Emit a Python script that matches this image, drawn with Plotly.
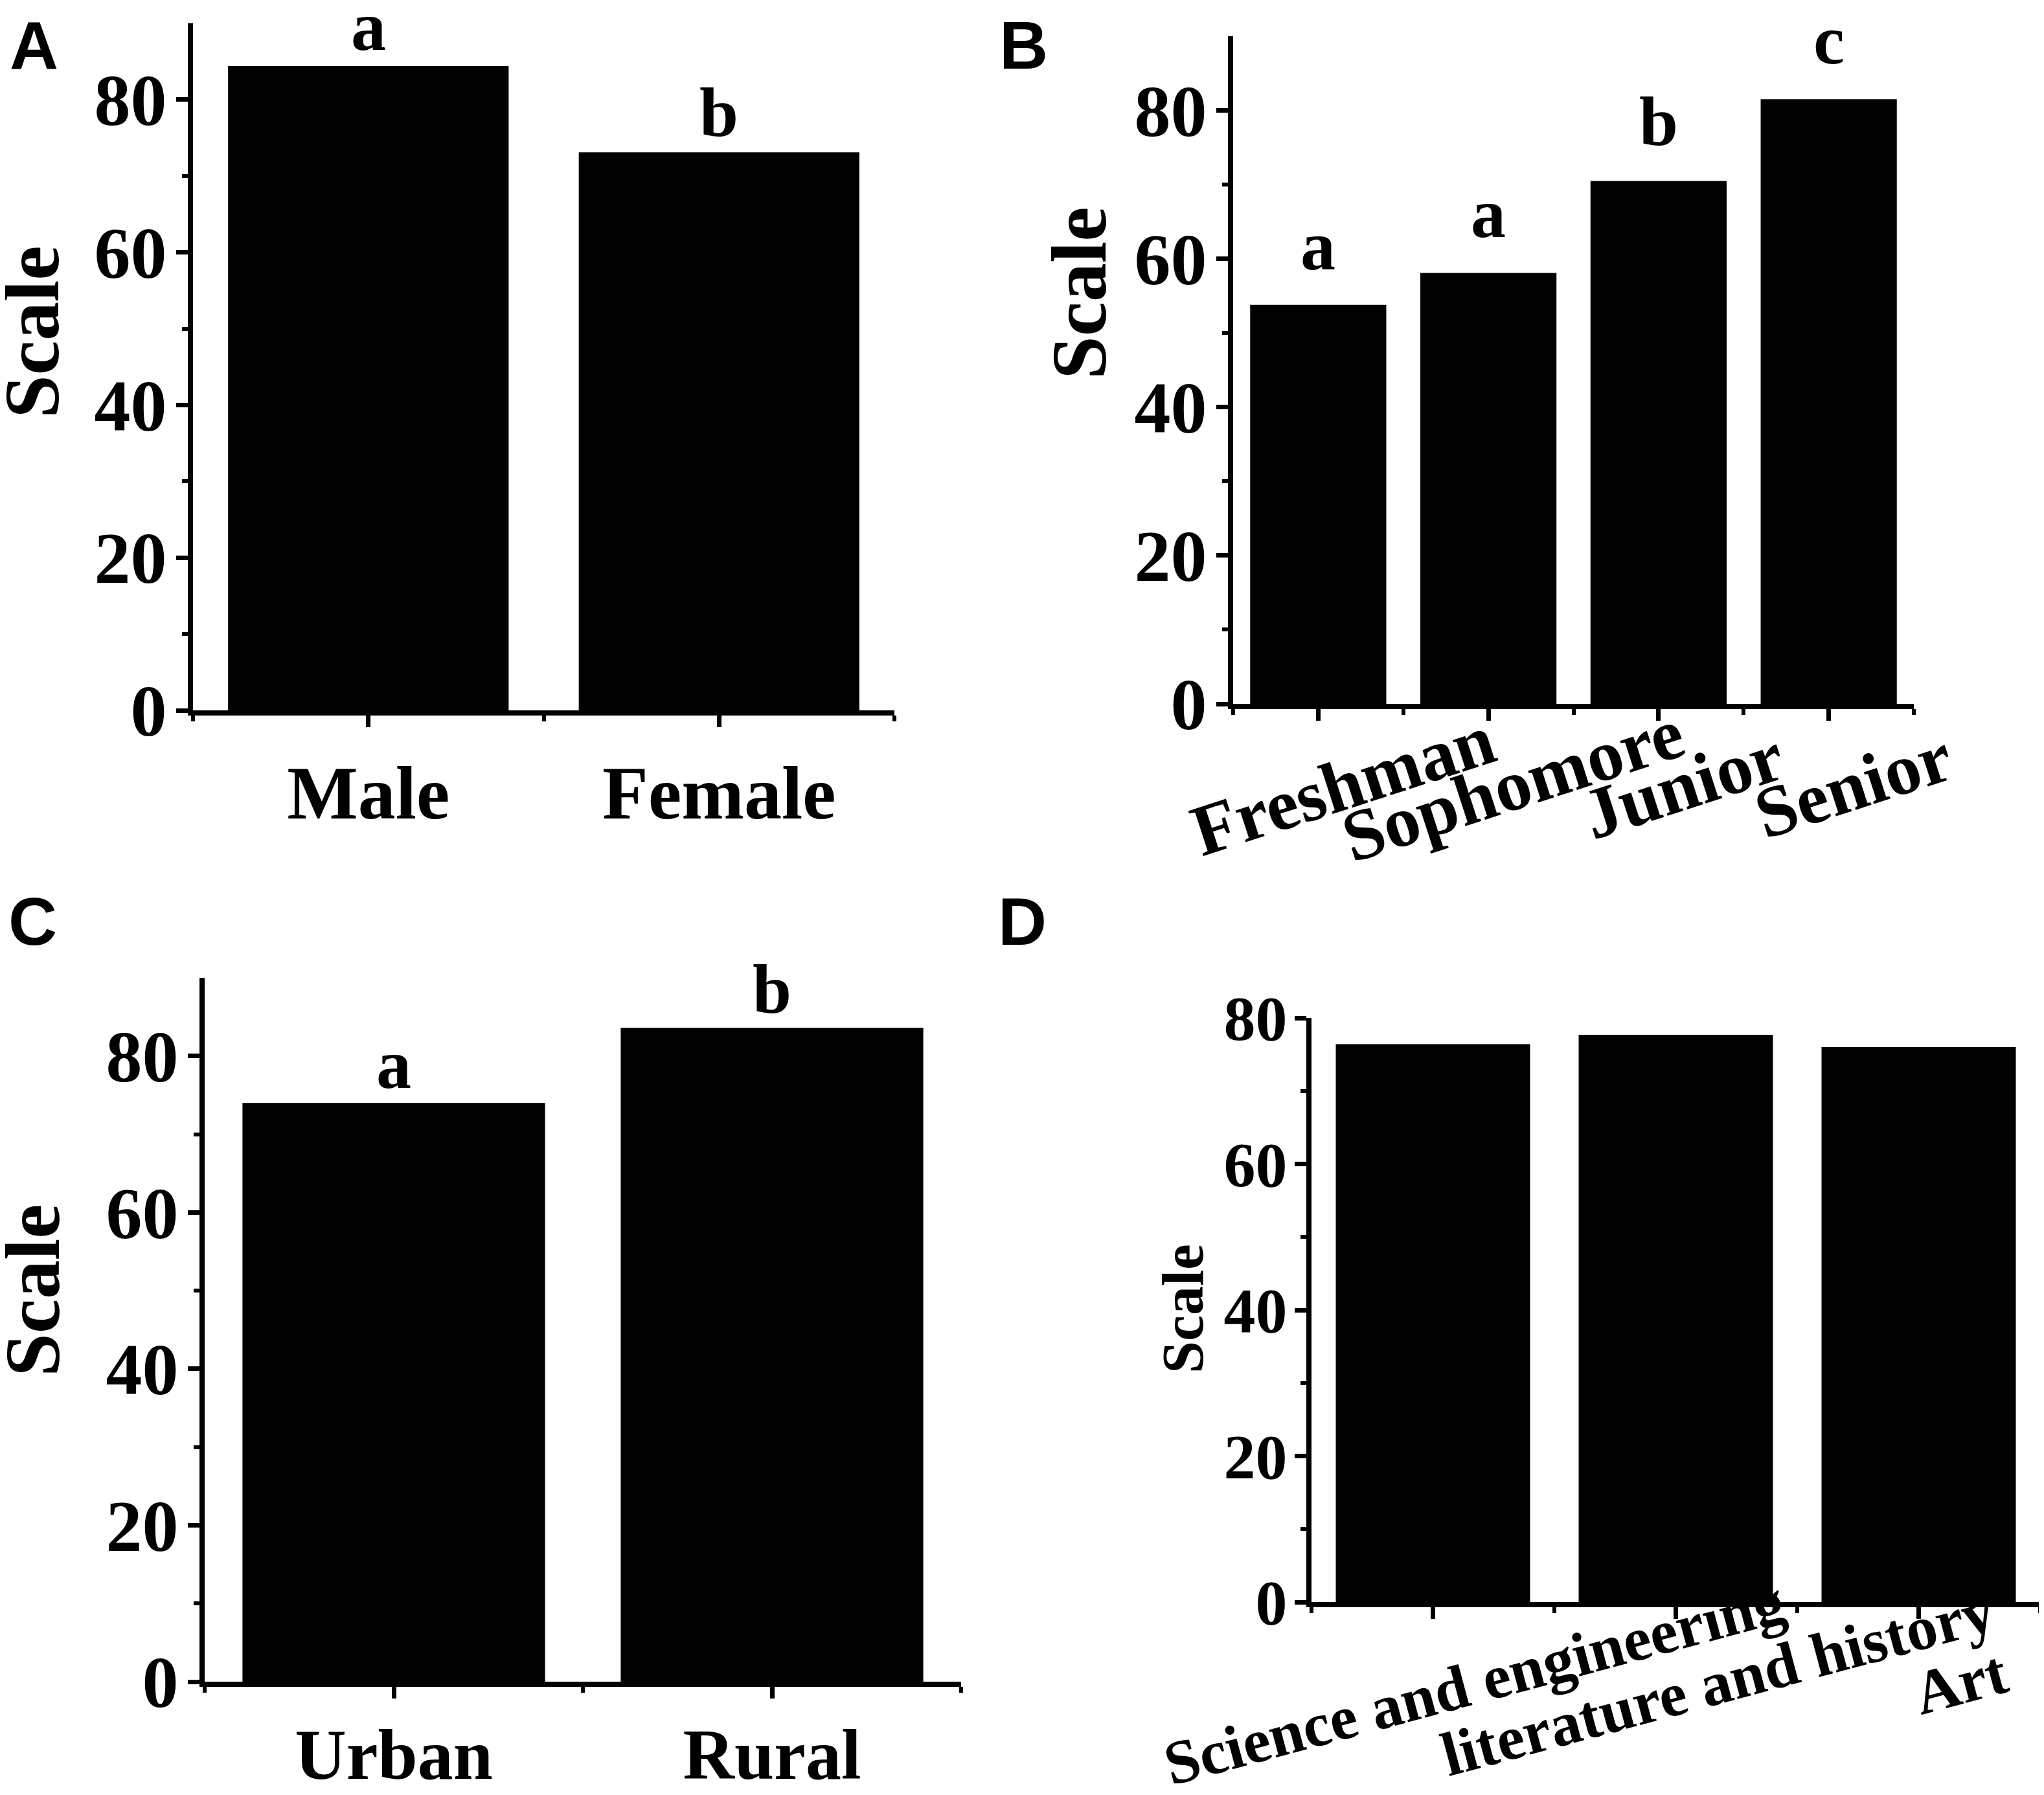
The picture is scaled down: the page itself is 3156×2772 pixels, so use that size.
import plotly.graph_objects as go

# Valores
sexo = ['Male', 'Female']
sexo_val = [84.4, 73.1]
sexo_letras = ['a', 'b']

curso = ['Freshman', 'Sophomore', 'Junior', 'Senior']
curso_val = [53.8, 58.1, 70.5, 81.5]
curso_letras = ['a', 'a', 'b', 'c']

origen = ['Urban', 'Rural']
origen_val = [74.0, 83.6]
origen_letras = ['a', 'b']

carrera = ['Science and engineering', 'literature and history', 'Art']
carrera_val = [76.4, 77.7, 76.0]

y_mayores = [0, 20, 40, 60, 80]
y_menores = [10, 30, 50, 70]

SERIF = 'Liberation Serif'
SANS = 'Liberation Sans'

# la página deja 8 px de margen, así que la figura es un poco menor que la ventana
W, H = 3148, 2764


def px(x):
    return (x - 8) / W


def py(y):
    return 1 - (y - 8) / H


def eje_y(dominio, rango, tam, anchor):
    return dict(domain=dominio, range=rango, anchor=anchor, automargin=False,
                showline=True, linecolor='black', linewidth=8,
                ticks='outside', ticklen=18, tickwidth=7, tickcolor='black',
                tickmode='array', tickvals=y_mayores, showgrid=False, zeroline=False,
                ticklabelstandoff=-8,
                tickfont=dict(family=SERIF, size=tam, color='black', weight='bold'),
                minor=dict(tickmode='array', tickvals=y_menores, ticks='outside',
                           ticklen=9, tickwidth=6, tickcolor='black'))


def eje_x(dominio, cats, etiquetas, tam, anchor, separacion=2):
    n = len(cats)
    return dict(domain=dominio, range=[-0.5, n - 0.5], anchor=anchor, automargin=False,
                showline=True, linecolor='black', linewidth=8, ticks='outside',
                ticklen=18, tickwidth=7, tickcolor='black', tickmode='array',
                tickvals=list(range(n)), ticktext=cats, showticklabels=etiquetas,
                ticklabelstandoff=separacion, showgrid=False, zeroline=False,
                tickfont=dict(family=SERIF, size=tam, color='black', weight='bold'),
                minor=dict(tickmode='array', tickvals=[i - 0.5 for i in range(n + 1)],
                           ticks='outside', ticklen=9, tickwidth=6, tickcolor='black'))


fig = go.Figure()
paneles = [(sexo, sexo_val, 'x', 'y'), (curso, curso_val, 'x2', 'y2'),
           (origen, origen_val, 'x3', 'y3'), (carrera, carrera_val, 'x4', 'y4')]
for cats, vals, xa, ya in paneles:
    fig.add_trace(go.Bar(x=list(range(len(cats))), y=vals, width=0.8,
                         marker=dict(color='black', line=dict(width=0)),
                         xaxis=xa, yaxis=ya, showlegend=False, hoverinfo='skip'))

anot = []

# letras de significancia
for cats, vals, letras, xr, yr, sh in [(sexo, sexo_val, sexo_letras, 'x', 'y', 0),
                                         (curso, curso_val, curso_letras, 'x2', 'y2', 30),
                                         (origen, origen_val, origen_letras, 'x3', 'y3', -2)]:
    for i, (v, l) in enumerate(zip(vals, letras)):
        anot.append(dict(x=i, y=v, xref=xr, yref=yr, text=l, showarrow=False,
                         yanchor='bottom', yshift=sh,
                         font=dict(family=SERIF, size=108, color='black', weight='bold')))

# etiquetas inclinadas de B y D
for i, c in enumerate(curso):
    anot.append(dict(x=i, y=0, xref='x2', yref='y2', text=c, showarrow=False,
                     textangle=-18, xanchor='center', yanchor='middle',
                     xshift=38, yshift=-125,
                     font=dict(family=SERIF, size=112, color='black', weight='bold')))
for i, c in enumerate(carrera):
    anot.append(dict(x=i, y=0, xref='x4', yref='y4', text=c, showarrow=False,
                     textangle=-15, xanchor='center', yanchor='middle',
                     xshift=64, yshift=-124,
                     font=dict(family=SERIF, size=96, color='black', weight='bold')))

# títulos de eje
for x, y, tam in [(50, 513, 120), (1667, 453, 120), (50, 1993, 120), (1826, 2021, 90)]:
    anot.append(dict(x=px(x), y=py(y), xref='paper', yref='paper', text='Scale',
                     showarrow=False, textangle=-90, xanchor='center', yanchor='middle',
                     font=dict(family=SERIF, size=tam, color='black', weight='bold')))

# letras de panel
for t, x, y in [('A', 52, 70), ('B', 1580, 70), ('C', 50, 1423), ('D', 1578, 1423)]:
    anot.append(dict(x=px(x), y=py(y), xref='paper', yref='paper', text=t, showarrow=False,
                     xanchor='center', yanchor='middle',
                     font=dict(family=SANS, size=104, color='black', weight='bold')))

fig.update_layout(
    width=W, height=H, autosize=False,
    margin=dict(l=0, r=0, t=0, b=0),
    paper_bgcolor='white', plot_bgcolor='white',
    xaxis=eje_x([px(298), px(1381)], sexo, True, 116, 'y'),
    yaxis=eje_y([py(1097), py(36)], [0, 90], 112, 'x'),
    xaxis2=eje_x([px(1904), px(2955)], curso, False, 116, 'y2'),
    yaxis2=eje_y([py(1087), py(56)], [0, 90], 112, 'x2'),
    xaxis3=eje_x([px(316), px(1484)], origen, True, 110, 'y3', -8),
    yaxis3=eje_y([py(2597), py(1510)], [0, 90], 112, 'x3'),
    xaxis4=eje_x([px(2025), px(3150)], carrera, False, 96, 'y4'),
    yaxis4=eje_y([py(2474), py(1572)], [0, 80], 98, 'x4'),
    annotations=anot,
)

fig.write_html("out.html")
